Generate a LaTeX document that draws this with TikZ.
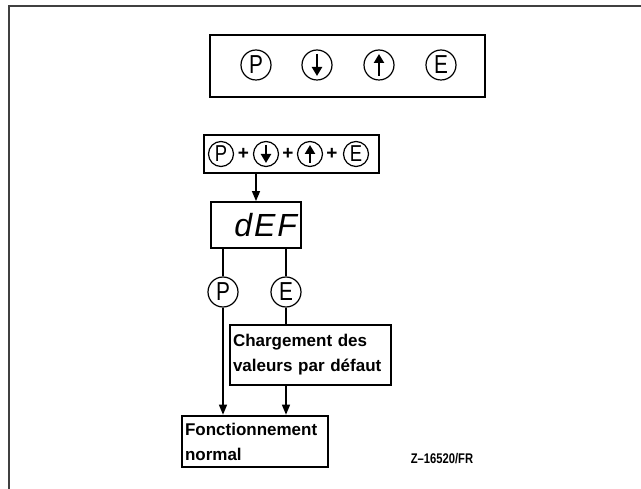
\documentclass[tikz,border=0pt]{standalone}
\usepackage{fontspec}
\setmainfont{Liberation Sans}
\usetikzlibrary{arrows.meta}

\begin{document}
\begin{tikzpicture}[x=1pt, y=-1pt,
  every node/.style={font=\fontsize{16}{24}\selectfont},
  frame/.style={black!75, line width=1.6pt},
  panel/.style={draw, line width=2.6pt, inner sep=0pt},
  keybox/.style={draw, line width=1.8pt, inner sep=0pt},
  key/.style={draw, circle, line width=1.2pt, inner sep=0pt, minimum size=30pt,
              font=\fontsize{26}{26}\selectfont\addfontfeature{FakeStretch=0.8}},
  smallkey/.style={key, minimum size=25pt,
              font=\fontsize{23}{23}\selectfont\addfontfeature{FakeStretch=0.8}},
  keyarrow/.style={line width=2.8pt, -{Triangle[length=9pt, width=10pt]}},
  plus/.style={inner sep=0pt, font=\bfseries\fontsize{19}{19}\selectfont},
  msg/.style={draw, line width=2.6pt, align=left, inner xsep=3pt, inner ysep=0pt,
              font=\bfseries\fontsize{17}{25}\selectfont},
  link/.style={line width=1.3pt},
  >={Triangle[length=10pt, width=8pt]},
]
  \useasboundingbox (0,0) rectangle (641,489);
  \draw[frame] (641,6) -- (9,6) -- (9,489);

  % Key panel
  \node[panel, minimum width=275pt, minimum height=62pt] (panel) at (347.5,66) {};
  \node[key] (kP)    at (256,65) {P};
  \node[key] (kDown) at (317,65) {};
  \node[key] (kUp)   at (379,65) {};
  \node[key] (kE)    at (441,65) {E};
  \draw[keyarrow] ([yshift=11pt]kDown.center) -- ([yshift=-11pt]kDown.center);
  \draw[keyarrow] ([yshift=-11pt]kUp.center) -- ([yshift=11pt]kUp.center);

  % Key combination
  \node[keybox, minimum width=175pt, minimum height=38pt] (combo) at (291.5,154) {};
  \node[smallkey] (cP)    at (221,154) {P};
  \node[plus]     (plA)   at (243.5,154) {+};
  \node[smallkey] (cDown) at (266,154) {};
  \node[plus]     (plB)   at (288,154) {+};
  \node[smallkey] (cUp)   at (310,154) {};
  \node[plus]     (plC)   at (332,154) {+};
  \node[smallkey] (cE)    at (356,154) {E};
  \draw[keyarrow] ([yshift=9pt]cDown.center) -- ([yshift=-9pt]cDown.center);
  \draw[keyarrow] ([yshift=-9pt]cUp.center) -- ([yshift=9pt]cUp.center);

  % Display
  \node[keybox, minimum width=90pt, minimum height=46pt, text width=82pt,
        inner xsep=4pt, align=right,
        font=\itshape\fontsize{32}{32}\selectfont\addfontfeature{LetterSpace=6}]
    (def) at (256,225) {dEF};

  % Choice
  \node[key] (sP) at (223,292) {P};
  \node[key] (sE) at (286,292) {E};

  % Results
  \node[msg, text width=155pt, minimum height=60pt] (charg) at (310.5,355)
    {Chargement des\\valeurs par défaut};
  \node[msg, text width=140pt, minimum height=51pt] (fonct) at (255,441.5)
    {Fonctionnement\\normal};

  \node[font=\bfseries\fontsize{14}{14}\selectfont\addfontfeature{FakeStretch=0.8}]
    (ref) at (442,459) {Z–16520/FR};

  % Arrows
  \draw[link, ->] (combo.south -| def.north) -- (def.north);
  \draw[link] (def.south -| sP) -- (sP.north);
  \draw[link] (def.south -| sE) -- (sE.north);
  \draw[link, ->] (sP.south) -- (sP |- fonct.north);
  \draw[link] (sE.south) -- (sE |- charg.north);
  \draw[link, ->] (charg.south -| sE) -- (sE |- fonct.north);
\end{tikzpicture}
\end{document}
